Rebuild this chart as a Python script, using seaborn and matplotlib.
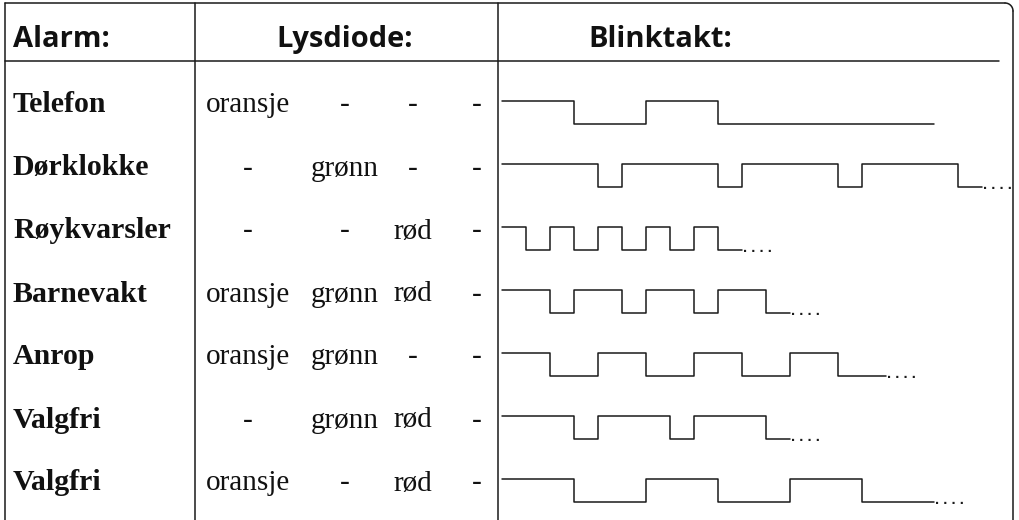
import numpy as np
import pandas as pd
import matplotlib
matplotlib.use("Agg")
import matplotlib.pyplot as plt
import seaborn as sns

# table content
alarmer = ["Telefon", "Dørklokke", "Røykvarsler", "Barnevakt", "Anrop", "Valgfri", "Valgfri"]
oransje = ["oransje", "-", "-", "oransje", "oransje", "-", "oransje"]
gronn = ["-", "grønn", "-", "grønn", "grønn", "grønn", "-"]
rod = ["-", "-", "rød", "rød", "-", "rød", "rød"]
fjerde = ["-", "-", "-", "-", "-", "-", "-"]
overskrifter = ["Alarm:", "Lysdiode:", "Blinktakt:"]

# blink pattern: length of each state (in time units), starting "on", alternating
blinktakt = [
    [3, 3, 3, 9],
    [4, 1, 4, 1, 4, 1, 4, 1],
    [1, 1, 1, 1, 1, 1, 1, 1, 1, 1],
    [2, 1, 2, 1, 2, 1, 2, 1],
    [2, 2, 2, 2, 2, 2, 2, 2],
    [3, 1, 3, 1, 3, 1],
    [3, 3, 3, 3, 3, 3],
]
fortsetter = [False, True, True, True, True, True, True]

# build step curves
punkter = []
for i, takt in enumerate(blinktakt):
    t = 0
    niva = 1
    rad = [(i, t, niva)]
    for d in takt:
        t += d
        rad.append((i, t, niva))
        niva = 1 - niva
        rad.append((i, t, niva))
    rad.pop()
    punkter += rad
df = pd.DataFrame(punkter, columns=["rad", "t", "niva"])
amp = 0.19
df["y"] = df["rad"] + np.where(df["niva"] == 1, -amp, amp)

sns.set_style("white")
fig = plt.figure(figsize=(10.2, 5.2), dpi=100)

# table frame in pixel coordinates
ax = fig.add_axes([0, 0, 1, 1])
ax.set_xlim(0, 1020)
ax.set_ylim(520, 0)
ax.axis("off")

lc = "#1a1a1a"
lw = 1.1
ax.plot([5, 5], [3, 520], color=lc, lw=lw)
ax.plot([5, 1005], [3, 3], color=lc, lw=lw)
vinkel = np.linspace(-np.pi / 2, 0, 20)
ax.plot(1005 + 8 * np.cos(vinkel), 11 + 8 * np.sin(vinkel), color=lc, lw=lw)
ax.plot([1013, 1013], [11, 520], color=lc, lw=lw)
ax.plot([5, 999], [61, 61], color=lc, lw=lw)
ax.plot([195, 195], [3, 520], color=lc, lw=lw)
ax.plot([498, 498], [3, 520], color=lc, lw=lw)

hode = dict(fontfamily="Open Sans", fontweight="bold", fontsize=21, color="#111111", va="baseline")
ax.text(13, 47, overskrifter[0], ha="left", **hode)
ax.text(345, 47, overskrifter[1], ha="center", **hode)
ax.text(660, 47, overskrifter[2], ha="center", **hode)

rad_y0 = 112.5
rad_dy = 63
led_x = [248, 345, 413, 477]
for i, navn in enumerate(alarmer):
    y = rad_y0 + i * rad_dy
    ax.text(13, y, navn, fontfamily="Liberation Serif", fontweight="bold",
            fontsize=21.5, color="#111111", va="baseline", ha="left")
    for x, kol in zip(led_x, [oransje, gronn, rod, fjerde]):
        ax.text(x, y, kol[i], fontfamily="Liberation Serif", fontsize=21,
                color="#111111", va="baseline", ha="center")

# blink patterns on their own axes (x in time units, y in rows)
enhet_px = 24
wax = fig.add_axes([502 / 1020, 0, 511 / 1020, 459 / 520])
wax.set_xlim(0, 511 / enhet_px)
wax.set_ylim((520 - rad_y0) / rad_dy, (61 - rad_y0) / rad_dy)
wax.axis("off")
sns.lineplot(data=df, x="t", y="y", units="rad", estimator=None, sort=False,
             color=lc, lw=1.1, ax=wax)
for ln in wax.lines:
    ln.set_clip_on(False)
for i, takt in enumerate(blinktakt):
    if fortsetter[i]:
        wax.text(sum(takt) + 0.05, i + amp + 0.02, ". . . .", fontsize=10.5,
                 fontfamily="Liberation Sans", fontweight="bold", color=lc,
                 va="baseline", ha="left")

fig.savefig("out.png", dpi=100)
